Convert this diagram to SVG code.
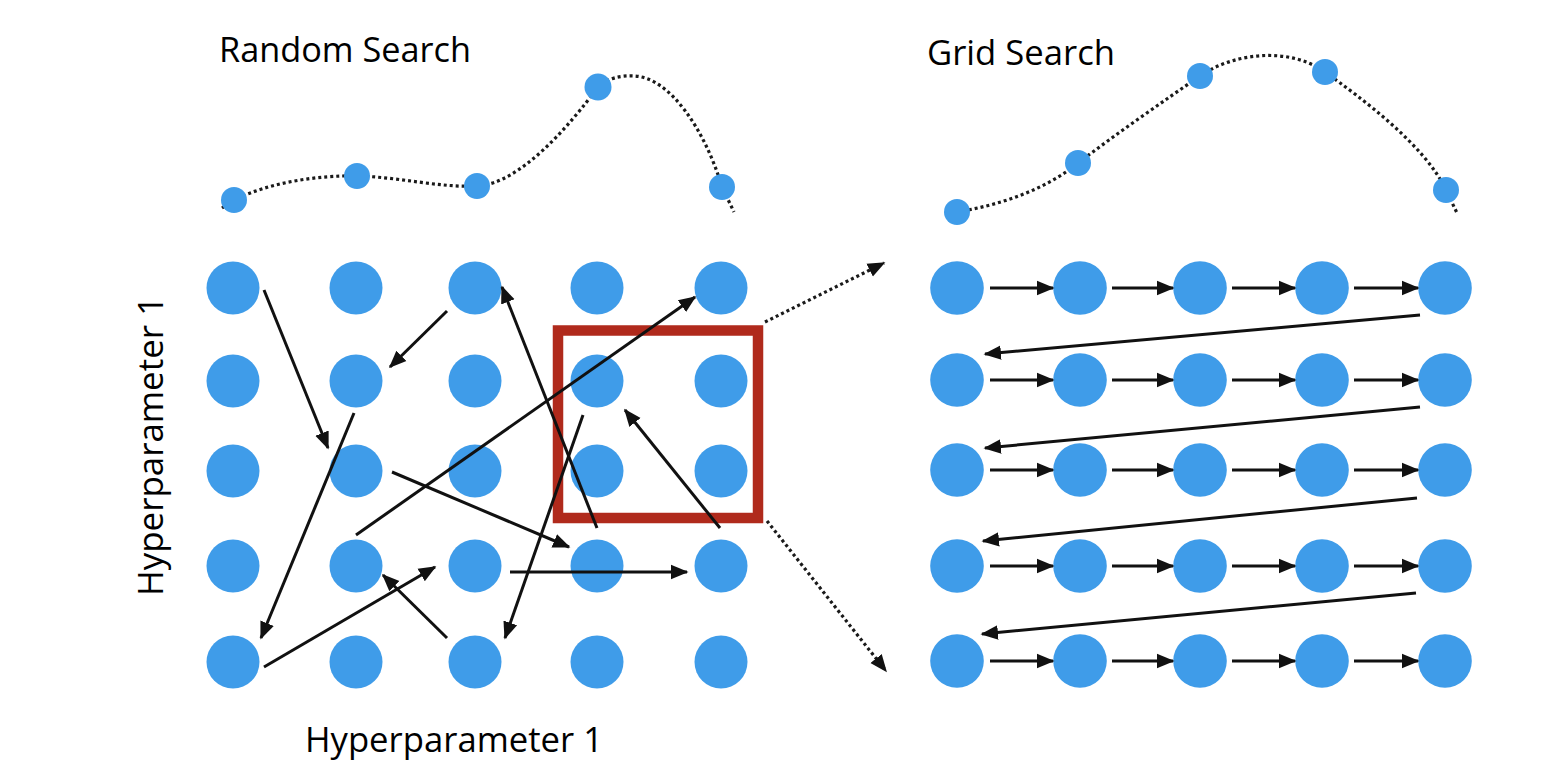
<svg xmlns="http://www.w3.org/2000/svg" width="1568" height="772" viewBox="0 0 1568 772">
<style>
.bg{fill:#ffffff}
.dot{fill:#3F9CE9}
.big{fill:#3F9CE9}
.lbl{font-family:"Open Sans","Liberation Sans",sans-serif;font-size:35px;fill:#000}
.curve{fill:none;stroke:#1a1a1a;stroke-width:3.2;stroke-dasharray:3 3}
.arr{fill:none;stroke:#111;stroke-width:3;marker-end:url(#ah)}
.darr{fill:none;stroke:#1a1a1a;stroke-width:3.2;stroke-dasharray:3 3;marker-end:url(#ah)}
.box{fill:none;stroke:#B02A1C;stroke-width:10.5}
</style>
<defs>
<marker id="ah" markerUnits="userSpaceOnUse" markerWidth="18" markerHeight="16" viewBox="0 0 18 16" refX="16" refY="8" orient="auto">
<path d="M0,0.8 L17.5,8 L0,15.2 z" fill="#111" stroke="none"/>
</marker>
</defs>
<rect class="bg" x="0" y="0" width="1568" height="772"/>

<!-- titles / axis labels -->
<text class="lbl" x="219" y="62" textLength="252" lengthAdjust="spacingAndGlyphs">Random Search</text>
<text class="lbl" x="927" y="65" textLength="188" lengthAdjust="spacingAndGlyphs">Grid Search</text>
<text class="lbl" x="305" y="752" textLength="298" lengthAdjust="spacingAndGlyphs">Hyperparameter 1</text>
<text class="lbl" transform="translate(163,596) rotate(-90)" x="0" y="0" textLength="300" lengthAdjust="spacingAndGlyphs">Hyperparameter 1</text>

<!-- dotted curves (connectors of the top plots) -->
<g id="curves">
<path class="curve" d="M222,208 L234,200 C270,182 320,175 357,176 C400,177 440,188 477,186 C520,184 570,125 598,87 C606,79 620,75 635,76 C670,78 705,130 722,187 L734,212"/>
<path class="curve" d="M957,212 C1000,205 1045,190 1078,163 C1115,135 1165,100 1200,76 C1235,52 1290,47 1325,72 C1360,97 1425,145 1446,190 L1457,213"/>
</g>

<!-- top curve sample points -->
<g id="rs-samples">
<g id="rs-s1"><circle class="dot" cx="234" cy="200" r="13"/></g>
<g id="rs-s2"><circle class="dot" cx="357" cy="176" r="13"/></g>
<g id="rs-s3"><circle class="dot" cx="477" cy="186" r="13"/></g>
<g id="rs-s4"><circle class="dot" cx="598" cy="87" r="13.5"/></g>
<g id="rs-s5"><circle class="dot" cx="722" cy="187" r="13"/></g>
</g>
<g id="gs-samples">
<g id="gs-s1"><circle class="dot" cx="957" cy="212" r="13"/></g>
<g id="gs-s2"><circle class="dot" cx="1078" cy="163" r="13"/></g>
<g id="gs-s3"><circle class="dot" cx="1200" cy="76" r="13"/></g>
<g id="gs-s4"><circle class="dot" cx="1325" cy="72" r="13"/></g>
<g id="gs-s5"><circle class="dot" cx="1446" cy="190" r="13"/></g>
</g>

<!-- Random search grid -->
<g id="rs-grid">
<g id="rs-1-1"><circle class="big" cx="233" cy="288" r="26.5"/></g>
<g id="rs-1-2"><circle class="big" cx="356" cy="288" r="26.5"/></g>
<g id="rs-1-3"><circle class="big" cx="475" cy="288" r="26.5"/></g>
<g id="rs-1-4"><circle class="big" cx="597" cy="288" r="26.5"/></g>
<g id="rs-1-5"><circle class="big" cx="721" cy="288" r="26.5"/></g>
<g id="rs-2-1"><circle class="big" cx="233" cy="381" r="26.5"/></g>
<g id="rs-2-2"><circle class="big" cx="356" cy="381" r="26.5"/></g>
<g id="rs-2-3"><circle class="big" cx="475" cy="381" r="26.5"/></g>
<g id="rs-2-4"><circle class="big" cx="597" cy="381" r="26.5"/></g>
<g id="rs-2-5"><circle class="big" cx="721" cy="381" r="26.5"/></g>
<g id="rs-3-1"><circle class="big" cx="233" cy="471" r="26.5"/></g>
<g id="rs-3-2"><circle class="big" cx="356" cy="471" r="26.5"/></g>
<g id="rs-3-3"><circle class="big" cx="475" cy="471" r="26.5"/></g>
<g id="rs-3-4"><circle class="big" cx="597" cy="471" r="26.5"/></g>
<g id="rs-3-5"><circle class="big" cx="721" cy="471" r="26.5"/></g>
<g id="rs-4-1"><circle class="big" cx="233" cy="566" r="26.5"/></g>
<g id="rs-4-2"><circle class="big" cx="356" cy="566" r="26.5"/></g>
<g id="rs-4-3"><circle class="big" cx="475" cy="566" r="26.5"/></g>
<g id="rs-4-4"><circle class="big" cx="597" cy="566" r="26.5"/></g>
<g id="rs-4-5"><circle class="big" cx="721" cy="566" r="26.5"/></g>
<g id="rs-5-1"><circle class="big" cx="233" cy="662" r="26.5"/></g>
<g id="rs-5-2"><circle class="big" cx="356" cy="662" r="26.5"/></g>
<g id="rs-5-3"><circle class="big" cx="475" cy="662" r="26.5"/></g>
<g id="rs-5-4"><circle class="big" cx="597" cy="662" r="26.5"/></g>
<g id="rs-5-5"><circle class="big" cx="721" cy="662" r="26.5"/></g>
</g>

<!-- Grid search grid -->
<g id="gs-grid">
<g id="gs-1-1"><circle class="big" cx="957" cy="288" r="26.8"/></g>
<g id="gs-1-2"><circle class="big" cx="1080" cy="288" r="26.8"/></g>
<g id="gs-1-3"><circle class="big" cx="1200" cy="288" r="26.8"/></g>
<g id="gs-1-4"><circle class="big" cx="1322" cy="288" r="26.8"/></g>
<g id="gs-1-5"><circle class="big" cx="1445" cy="288" r="26.8"/></g>
<g id="gs-2-1"><circle class="big" cx="957" cy="380" r="26.8"/></g>
<g id="gs-2-2"><circle class="big" cx="1080" cy="380" r="26.8"/></g>
<g id="gs-2-3"><circle class="big" cx="1200" cy="380" r="26.8"/></g>
<g id="gs-2-4"><circle class="big" cx="1322" cy="380" r="26.8"/></g>
<g id="gs-2-5"><circle class="big" cx="1445" cy="380" r="26.8"/></g>
<g id="gs-3-1"><circle class="big" cx="957" cy="470" r="26.8"/></g>
<g id="gs-3-2"><circle class="big" cx="1080" cy="470" r="26.8"/></g>
<g id="gs-3-3"><circle class="big" cx="1200" cy="470" r="26.8"/></g>
<g id="gs-3-4"><circle class="big" cx="1322" cy="470" r="26.8"/></g>
<g id="gs-3-5"><circle class="big" cx="1445" cy="470" r="26.8"/></g>
<g id="gs-4-1"><circle class="big" cx="957" cy="566" r="26.8"/></g>
<g id="gs-4-2"><circle class="big" cx="1080" cy="566" r="26.8"/></g>
<g id="gs-4-3"><circle class="big" cx="1200" cy="566" r="26.8"/></g>
<g id="gs-4-4"><circle class="big" cx="1322" cy="566" r="26.8"/></g>
<g id="gs-4-5"><circle class="big" cx="1445" cy="566" r="26.8"/></g>
<g id="gs-5-1"><circle class="big" cx="957" cy="661" r="26.8"/></g>
<g id="gs-5-2"><circle class="big" cx="1080" cy="661" r="26.8"/></g>
<g id="gs-5-3"><circle class="big" cx="1200" cy="661" r="26.8"/></g>
<g id="gs-5-4"><circle class="big" cx="1322" cy="661" r="26.8"/></g>
<g id="gs-5-5"><circle class="big" cx="1445" cy="661" r="26.8"/></g>
</g>

<!-- zoom box -->
<g id="zoom-box"><rect class="box" x="558" y="330.5" width="200" height="187.5"/></g>

<!-- connectors -->
<g id="connectors">
<!-- random search path -->
<line class="arr" x1="264" y1="290" x2="328" y2="448"/>
<line class="arr" x1="447" y1="311" x2="390" y2="367"/>
<line class="arr" x1="354" y1="413" x2="261" y2="638"/>
<line class="arr" x1="264" y1="667" x2="435" y2="567"/>
<line class="arr" x1="447" y1="638" x2="383" y2="575"/>
<line class="arr" x1="392" y1="472" x2="569" y2="547"/>
<line class="arr" x1="356" y1="535" x2="695" y2="297"/>
<line class="arr" x1="597" y1="528" x2="502" y2="287"/>
<line class="arr" x1="583" y1="415" x2="505" y2="638"/>
<line class="arr" x1="720" y1="528" x2="625" y2="410"/>
<line class="arr" x1="510" y1="572" x2="687" y2="572"/>
<!-- zoom lines -->
<line class="darr" x1="765" y1="322" x2="884" y2="263"/>
<line class="darr" x1="767" y1="521" x2="886" y2="671"/>
<!-- grid search rows -->
<line class="arr" x1="990" y1="288" x2="1053" y2="288"/>
<line class="arr" x1="1112" y1="288" x2="1173" y2="288"/>
<line class="arr" x1="1232" y1="288" x2="1295" y2="288"/>
<line class="arr" x1="1354" y1="288" x2="1418" y2="288"/>
<line class="arr" x1="990" y1="380" x2="1053" y2="380"/>
<line class="arr" x1="1112" y1="380" x2="1173" y2="380"/>
<line class="arr" x1="1232" y1="380" x2="1295" y2="380"/>
<line class="arr" x1="1354" y1="380" x2="1418" y2="380"/>
<line class="arr" x1="990" y1="470" x2="1053" y2="470"/>
<line class="arr" x1="1112" y1="470" x2="1173" y2="470"/>
<line class="arr" x1="1232" y1="470" x2="1295" y2="470"/>
<line class="arr" x1="1354" y1="470" x2="1418" y2="470"/>
<line class="arr" x1="990" y1="566" x2="1053" y2="566"/>
<line class="arr" x1="1112" y1="566" x2="1173" y2="566"/>
<line class="arr" x1="1232" y1="566" x2="1295" y2="566"/>
<line class="arr" x1="1354" y1="566" x2="1418" y2="566"/>
<line class="arr" x1="990" y1="661" x2="1053" y2="661"/>
<line class="arr" x1="1112" y1="661" x2="1173" y2="661"/>
<line class="arr" x1="1232" y1="661" x2="1295" y2="661"/>
<line class="arr" x1="1354" y1="661" x2="1418" y2="661"/>
<!-- grid search row returns -->
<line class="arr" x1="1420" y1="315" x2="985" y2="354"/>
<line class="arr" x1="1420" y1="407" x2="985" y2="448"/>
<line class="arr" x1="1417" y1="498" x2="983" y2="541"/>
<line class="arr" x1="1416" y1="593" x2="982" y2="634"/>
</g>
</svg>
